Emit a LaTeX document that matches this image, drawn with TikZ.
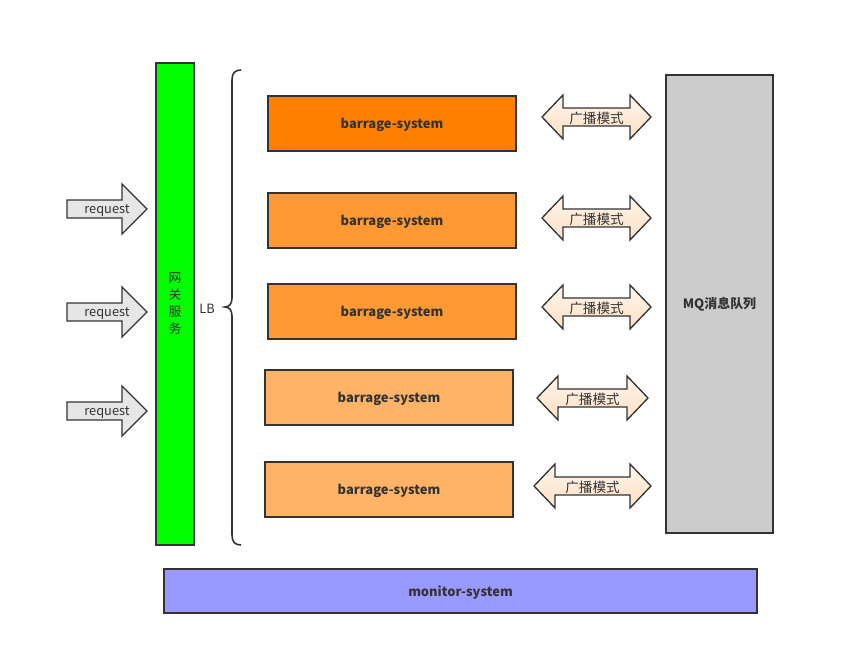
\documentclass[tikz,border=0pt]{standalone}
\usepackage{fontspec}
\setmainfont{Noto Sans CJK SC}
\usepackage{xcolor}
\usepackage{tikz}
\usetikzlibrary{positioning}

\definecolor{linegray}{HTML}{333333}
\definecolor{gatewaygreen}{HTML}{00FF00}
\definecolor{sysA}{HTML}{FF8000}
\definecolor{sysB}{HTML}{FF9933}
\definecolor{sysC}{HTML}{FFB366}
\definecolor{mqgray}{HTML}{CCCCCC}
\definecolor{monitorblue}{HTML}{9999FF}
\definecolor{reqgray}{HTML}{E6E6E6}
\definecolor{peachtop}{HTML}{FFF6EC}
\definecolor{peachbot}{HTML}{FDDFC2}

\tikzset{
  box/.style={draw=linegray, line width=1pt, inner sep=0pt},
  boldtxt/.style={font=\fontsize{9.7}{11}\selectfont\bfseries, text=linegray, yshift=-0.8pt},
  plaintxt/.style={font=\fontsize{9.6}{11}\selectfont, text=linegray, yshift=-1pt},
  reqarrow/.style={draw=linegray, line width=1pt, fill=reqgray},
  castarrow/.style={draw=linegray, line width=1pt, top color=peachtop, bottom color=peachbot},
}

\begin{document}
\begin{tikzpicture}[x=0.75pt, y=-0.75pt]
\useasboundingbox (0,0) rectangle (853,653);

% gateway
\draw[box, fill=gatewaygreen] (156,63) rectangle (194,545);
\node[plaintxt, align=center, font=\fontsize{9.6}{12.8}\selectfont] (gateway) at (175,302) {网\\关\\服\\务};

% load balancer brace
\node[plaintxt] (lb) at (207,307) {LB};
\draw[linegray, line width=1.2pt]
  (241,70) .. controls (235,70) and (232,73) .. (232,80) -- (232,298)
  .. controls (232,304) and (229,307) .. (225,307)
  .. controls (229,307) and (232,310) .. (232,316) -- (232,535)
  .. controls (232,542) and (235,545) .. (241,545);

% request arrows
\foreach \cy/\nm in {209/reqA, 312/reqB, 411/reqC} {
  \draw[reqarrow] (67,\cy-9) -- (122,\cy-9) -- (122,\cy-25) -- (147,\cy)
    -- (122,\cy+25) -- (122,\cy+9) -- (67,\cy+9) -- cycle;
  \node[plaintxt] (\nm) at (107,\cy) {request};
}

% barrage systems
\foreach \xl/\yt/\col/\nm in {268/96/sysA/bsA, 268/193/sysB/bsB, 268/284/sysB/bsC,
                              265/370/sysC/bsD, 265/462/sysC/bsE} {
  \draw[box, fill=\col] (\xl,\yt) rectangle ++(248,55);
  \node[boldtxt] (\nm) at (\xl+124,\yt+27.5) {barrage-system};
}

% broadcast arrows
\foreach \xl/\xr/\cy/\nm in {542/651/117/castA, 542/651/218/castB, 542/651/307/castC,
                              537/648/398/castD, 534/651/486/castE} {
  \draw[castarrow] (\xl,\cy) -- (\xl+21,\cy-22) -- (\xl+21,\cy-9) -- (\xr-21,\cy-9)
    -- (\xr-21,\cy-22) -- (\xr,\cy) -- (\xr-21,\cy+22) -- (\xr-21,\cy+9)
    -- (\xl+21,\cy+9) -- (\xl+21,\cy+22) -- cycle;
  \node[plaintxt, font=\fontsize{10.2}{12}\selectfont] (\nm) at ({(\xl+\xr)/2},\cy) {广播模式};
}

% message queue
\draw[box, fill=mqgray] (666,75) rectangle (773,533);
\node[boldtxt] (mq) at (719.5,303) {MQ消息队列};

% monitor
\draw[box, fill=monitorblue] (164,569) rectangle (757,613);
\node[boldtxt] (monitor) at (460.5,591) {monitor-system};
\end{tikzpicture}
\end{document}
